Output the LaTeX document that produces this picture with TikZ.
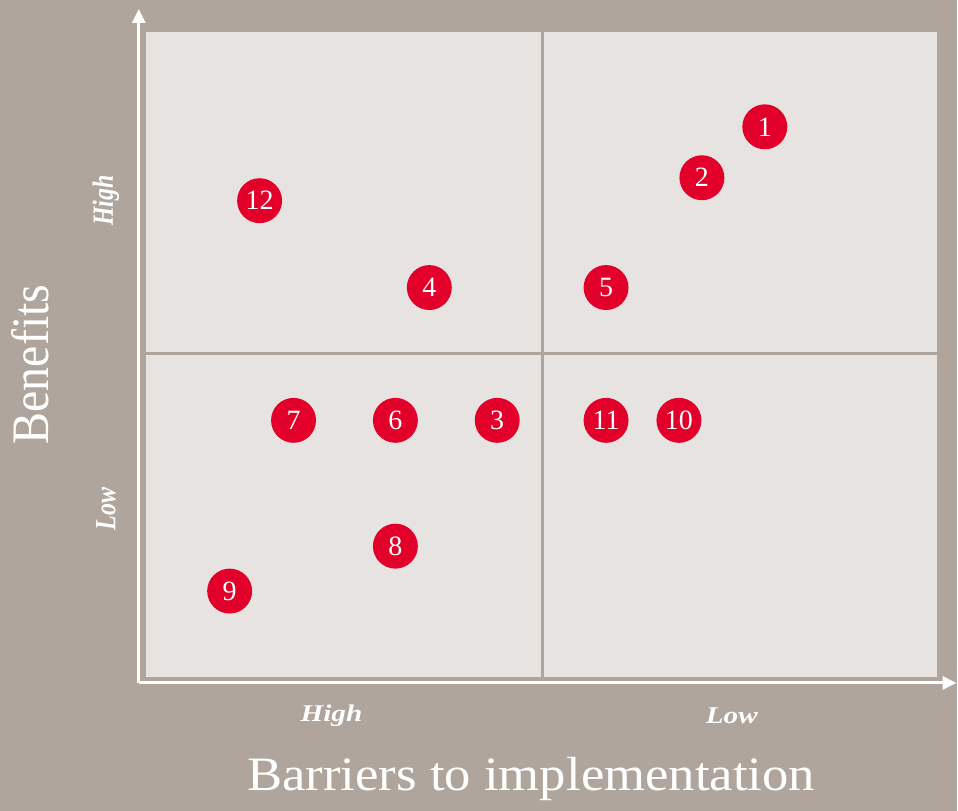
\documentclass[tikz,border=0pt]{standalone}
\usepackage{fontspec}
\setmainfont{Liberation Serif}
\usetikzlibrary{arrows.meta}
\definecolor{taupe}{HTML}{AFA59C}
\definecolor{pane}{HTML}{E6E3E0}
\definecolor{dotred}{HTML}{E2002B}
\begin{document}
\begin{tikzpicture}
  [x=1pt, y=-1pt,
   dot/.style={fill=dotred, circle, inner sep=0pt, minimum size=45pt, text=white, font=\fontsize{28}{28}\selectfont},
   level/.style={text=white, xscale=1.22, font=\fontsize{24}{24}\selectfont\bfseries\itshape},
   title/.style={text=white, xscale=1.1, font=\fontsize{48}{48}\selectfont}]
  \fill[taupe] (0,0) rectangle (958,812);
  \fill[pane] (146,32) rectangle (938,678);
  \draw[taupe, line width=3pt] (543,32) -- (543,678) (146,354) -- (938,354);
  % axes
  \coordinate (origin) at (139,684);
  \coordinate (ytip) at (139,9);
  \coordinate (xtip) at (958,684);
  \draw[white, line width=3pt, -{Triangle[length=14pt, width=13pt]}] (origin) -- (ytip);
  \draw[white, line width=3pt, -{Triangle[length=14pt, width=13pt]}] (origin) -- (xtip);
  % axis labels
  \node[level, rotate=90] (yhigh) at (106,201) {High};
  \node[level, rotate=90] (ylow) at (106,510) {Low};
  \node[level] (xhigh) at (332,717) {High};
  \node[level] (xlow) at (733,717) {Low};
  \node[title, rotate=90] (benefits) at (30,365) {Benefits};
  \node[title] (barriers) at (532,780) {Barriers to implementation};
  % measures
  \node[dot] (m1) at (766,127) {1};
  \node[dot] (m2) at (703,178) {2};
  \node[dot] (m3) at (498,421) {3};
  \node[dot] (m4) at (430,288) {4};
  \node[dot] (m5) at (607,288) {5};
  \node[dot] (m6) at (396,421) {6};
  \node[dot] (m7) at (294,421) {7};
  \node[dot] (m8) at (396,547) {8};
  \node[dot] (m9) at (230,592) {9};
  \node[dot] (m10) at (680,421) {10};
  \node[dot] (m11) at (607,421) {11};
  \node[dot] (m12) at (260,201) {12};
\end{tikzpicture}
\end{document}
